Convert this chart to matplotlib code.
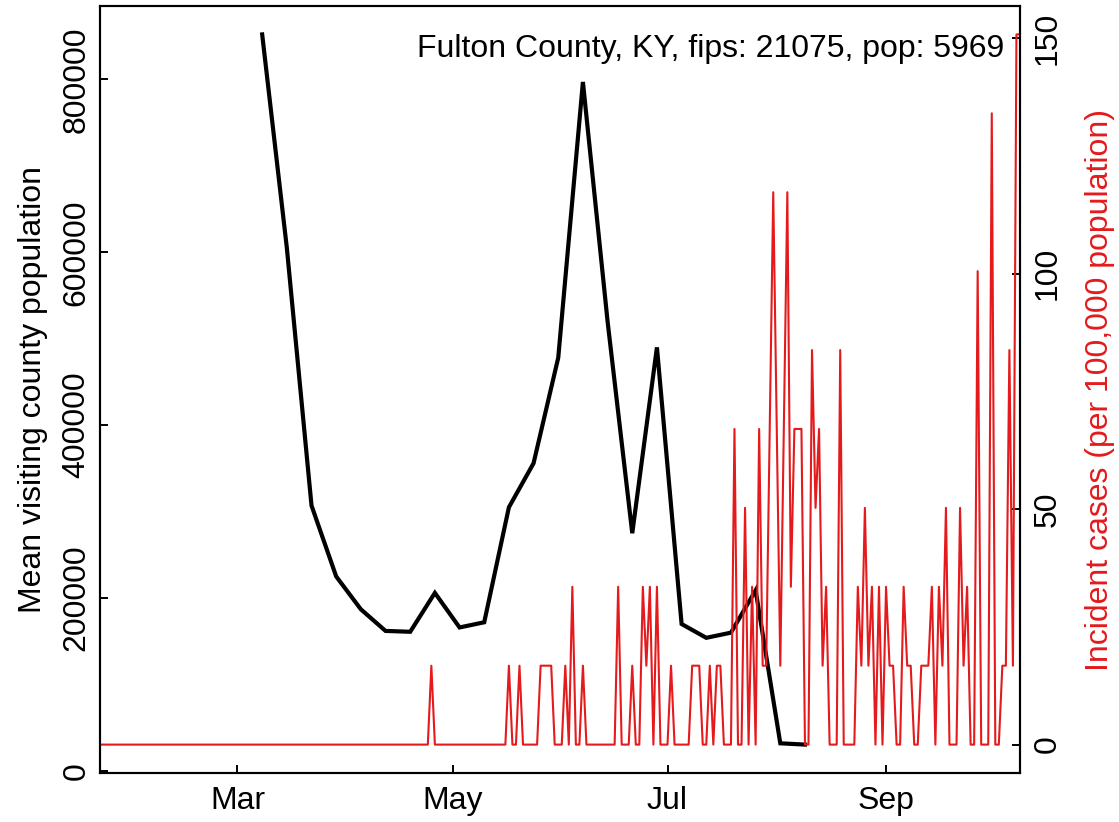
import pandas as pd
import matplotlib
matplotlib.use('Agg')
import matplotlib.pyplot as plt
import matplotlib.dates as mdates

plt.rcParams['font.family'] = ['Liberation Sans', 'DejaVu Sans']

county_label = 'Fulton County, KY, fips: 21075, pop: 5969'
population = 5969

# weekly mean visiting county population (starting Mar 8 2020)
week_start = '2020-03-08'
visiting_pop = [852000, 605000, 307000, 225000, 187000, 162000, 161000, 206000,
                166000, 172000, 305000, 356000, 478000, 797000, 520000, 275000,
                490000, 170000, 154000, 160000, 209000, 32000, 30500]

# daily incident case counts (starting Jan 22 2020)
day_start = '2020-01-22'
daily_cases = ([0] * 94 + [1] + [0] * 21 + [1, 0, 0, 1, 0, 0, 0, 0, 0, 1, 1, 1, 1,
               0, 0, 0, 1, 0, 2, 0, 0, 1] + [0] * 9 +
               [2, 0, 0, 0, 1, 0, 0, 2, 1, 2, 0, 2, 0, 0, 0, 1, 0, 0, 0, 0, 0,
                1, 1, 1, 0, 0, 1, 0, 1, 1, 0, 0, 0, 4, 0, 0, 3, 0, 2, 0, 4,
                1, 1, 4, 7, 4, 1, 4, 7, 2, 4, 4, 4, 0, 0, 5, 3, 4, 1, 2,
                0, 0, 0, 5, 0, 0, 0, 0, 2, 1, 3, 1, 2, 0, 2, 0, 2, 1, 1, 0, 0,
                2, 1, 1, 0, 0, 1, 1, 1, 2, 0, 2, 1, 3, 0, 0, 0, 3, 1, 2, 0, 0,
                6, 0, 0, 0, 8, 0, 0, 1, 1, 5, 1, 9, 9])

week_dates = pd.date_range(week_start, periods=len(visiting_pop), freq='7D')
day_dates = pd.date_range(day_start, periods=len(daily_cases), freq='D')
incidence = [c / population * 100000 for c in daily_cases]

red = '#E41A1C'

fig = plt.figure(figsize=(11.19, 8.22), dpi=100)
ax = fig.add_axes([0.0894, 0.0596, 0.8221, 0.9331])

ax.plot(week_dates, visiting_pop, color='black', lw=3.0, solid_joinstyle='miter')
ax.set_xlim(day_dates[0], day_dates[-1])
lo, hi = min(visiting_pop), max(visiting_pop)
ax.set_ylim(lo - 0.04 * (hi - lo), hi + 0.04 * (hi - lo))
ax.set_yticks([0, 200000, 400000, 600000, 800000])
ax.set_ylabel('Mean visiting county population', fontsize=23, labelpad=10)

ax.xaxis.set_major_locator(mdates.MonthLocator(bymonth=[3, 5, 7, 9]))
ax.xaxis.set_major_formatter(mdates.DateFormatter('%b'))

ax2 = ax.twinx()
ax2.plot(day_dates, incidence, color=red, lw=1.5)
rmax = max(incidence)
ax2.set_ylim(-0.04 * rmax, rmax * 1.04)
ax2.set_yticks([0, 50, 100, 150])
ax2.set_ylabel('Incident cases (per 100,000 population)', color=red,
               fontsize=23, labelpad=16)

for a in (ax, ax2):
    a.tick_params(direction='in', length=6, width=1.4, labelsize=23, pad=9)
    for s in a.spines.values():
        s.set_linewidth(1.5)
ax.tick_params(axis='y', labelrotation=90, pad=6)
ax2.tick_params(axis='y', labelrotation=90)
plt.setp(ax.get_yticklabels(), va='center')
plt.setp(ax2.get_yticklabels(), va='center')

ax2.text(0.983, 0.963, county_label, transform=ax2.transAxes,
         ha='right', va='top', fontsize=23)

fig.savefig('out.png', dpi=100)
